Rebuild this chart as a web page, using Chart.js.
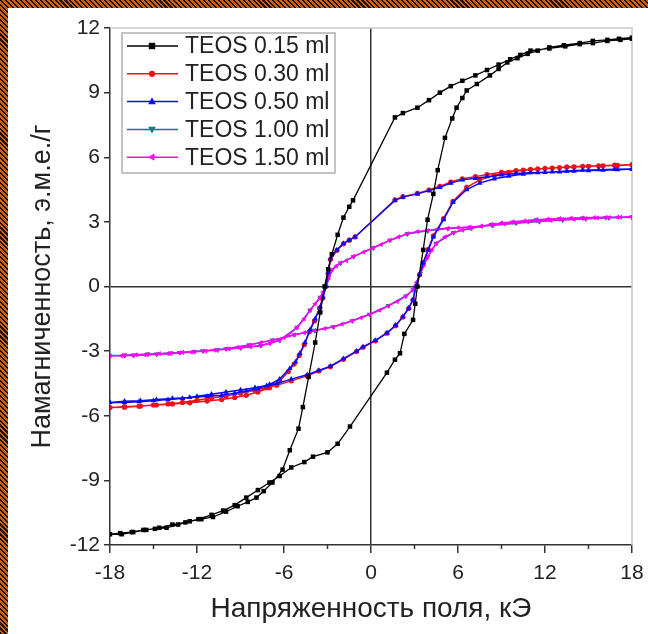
<!DOCTYPE html>
<html>
<head>
<meta charset="utf-8">
<script src="https://cdn.jsdelivr.net/npm/chart.js@4.4.0/dist/chart.umd.min.js"></script>
<style>
  html, body { margin: 0; padding: 0; }
  body {
    width: 648px; height: 634px; overflow: hidden; position: relative;
    background: repeating-linear-gradient(45deg, #1c0c02 0px, #1c0c02 1.5px, #d0620f 1.5px, #d0620f 3.5px);
  }
  #wrap { position: absolute; left: 8px; top: 8px; width: 640px; height: 626px; background: #fff; }
</style>
</head>
<body>
<div id="wrap"><canvas id="myChart" width="640" height="626"></canvas></div>
<script>
/* hysteresis loops, field (kOe) vs magnetization */
var seriesNames = ["TEOS 0.15 ml", "TEOS 0.30 ml", "TEOS 0.50 ml", "TEOS 1.00 ml", "TEOS 1.50 ml"];
var xTicks = [-18, -12, -6, 0, 6, 12, 18];
var yTicks = [-12, -9, -6, -3, 0, 3, 6, 9, 12];

var teos015 = [
  [18,11.5],[17.2,11.45],[16.3,11.4],[15.3,11.3],[14.4,11.25],[13.4,11.15],[12.3,11.05],[11,10.95],
  [10.3,10.75],[9.6,10.55],[8.8,10.3],[8,10.05],[7.2,9.8],[6.3,9.55],[5.5,9.3],[4.75,9.0],[4,8.65],
  [3.2,8.3],[2.2,8.05],[1.65,7.85],[-1.24,4.0],[-1.5,3.7],[-1.9,3.2],[-2.3,2.4],[-2.7,1.5],[-2.95,0.8],
  [-3.2,0],[-3.5,-1.2],[-3.85,-2.6],[-4.3,-4.2],[-4.7,-5.6],[-5.0,-6.6],[-5.6,-7.6],[-6.1,-8.5],
  [-6.8,-9.1],[-7.4,-9.5],[-7.9,-9.8],[-8.5,-10.0],[-9.2,-10.2],[-10,-10.45],[-10.9,-10.7],[-11.7,-10.8],
  [-12.5,-10.9],[-13.3,-11.05],[-14.1,-11.2],[-14.9,-11.25],[-15.7,-11.3],[-16.5,-11.4],[-17.3,-11.45],[-18,-11.5],
  [-17.2,-11.5],[-16.4,-11.4],[-15.5,-11.3],[-14.6,-11.2],[-13.7,-11.05],[-12.8,-10.95],[-11.9,-10.8],
  [-11,-10.6],[-10.2,-10.4],[-9.4,-10.15],[-8.6,-9.8],[-7.8,-9.45],[-7,-9.1],[-6.3,-8.8],[-5.5,-8.4],
  [-4.6,-8.15],[-4,-7.9],[-3,-7.7],[-2.3,-7.3],[-1.45,-6.5],[1.1,-4.0],[1.65,-3.4],[2.0,-3.1],[2.3,-2.2],
  [2.9,-1.55],[3.05,-0.8],[3.2,0],[3.6,1.7],[3.9,3.1],[4.3,4.3],[4.6,5.4],[5.1,6.9],[5.6,7.8],[5.9,8.3],
  [6.3,8.75],[6.6,9.1],[7.3,9.4],[8.2,9.8],[8.8,10.1],[9.4,10.4],[10.1,10.6],[10.8,10.8],[11.5,10.95],
  [12.3,11.1],[13.3,11.2],[14.4,11.3],[15.3,11.4],[16.3,11.45],[17.1,11.5],[18,11.55]
];

var teos030 = [
  [18,5.65],[17,5.62],[16,5.6],[15,5.58],[14,5.55],[13,5.52],[12,5.48],[11,5.44],[10,5.38],[9,5.3],
  [8,5.2],[7.2,5.1],[6.3,5.0],[5.5,4.85],[4.75,4.65],[4,4.48],[3.2,4.32],[2.2,4.17],[1.65,4.02],
  [-1.1,2.3],[-1.5,2.15],[-1.9,1.98],[-2.35,1.68],[-2.8,1.25],[-2.95,0.6],[-3.15,0],[-3.35,-0.55],
  [-3.55,-1.0],[-3.9,-1.6],[-4.25,-2.1],[-4.6,-2.7],[-4.95,-3.2],[-5.3,-3.6],[-5.7,-3.95],[-6.3,-4.4],
  [-7,-4.7],[-7.8,-4.9],[-8.6,-5.05],[-9.4,-5.15],[-10.3,-5.25],[-11.3,-5.32],[-12.5,-5.4],[-13.7,-5.45],
  [-14.8,-5.5],[-15.9,-5.55],[-17,-5.58],[-18,-5.62],
  [-17,-5.6],[-16,-5.56],[-15,-5.5],[-14,-5.45],[-13,-5.38],[-12,-5.28],[-11,-5.18],[-10,-5.08],
  [-9,-4.95],[-8,-4.82],[-7.2,-4.7],[-6.5,-4.58],[-5.5,-4.38],[-4.4,-4.15],[-3.6,-3.92],[-2.8,-3.72],
  [-1.9,-3.38],[-1,-3.02],[-0.55,-2.82],[0.3,-2.52],[1.1,-2.17],[1.7,-1.82],[2.2,-1.42],[2.6,-1.02],
  [2.9,-0.62],[3.1,0],[3.35,0.55],[3.6,1.1],[3.95,1.72],[4.3,2.35],[5,3.15],[5.65,3.95],[6.6,4.6],
  [7.5,4.95],[8.5,5.15],[9.5,5.3],[10.5,5.4],[11.5,5.46],[12.5,5.5],[13.5,5.55],[14.6,5.58],[15.7,5.6],
  [16.8,5.63],[18,5.65]
];

var teos050 = [
  [18,5.45],[17,5.42],[16,5.4],[15,5.38],[14,5.35],[13,5.32],[12,5.3],[11,5.28],[10,5.25],[9,5.18],
  [8,5.1],[7.2,5.02],[6.3,4.95],[5.5,4.8],[4.75,4.6],[4,4.45],[3.2,4.3],[2.2,4.15],[1.65,4.0],
  [-1.1,2.3],[-1.5,2.15],[-1.9,2.0],[-2.35,1.7],[-2.8,1.3],[-2.95,0.65],[-3.1,0],[-3.3,-0.5],
  [-3.5,-0.95],[-3.85,-1.5],[-4.2,-2.0],[-4.55,-2.6],[-4.9,-3.1],[-5.2,-3.5],[-5.6,-3.8],[-6.3,-4.3],
  [-7,-4.55],[-7.8,-4.75],[-8.6,-4.85],[-9.4,-4.95],[-10.3,-5.05],[-11.3,-5.1],[-12.5,-5.15],[-13.7,-5.2],
  [-14.8,-5.25],[-15.9,-5.3],[-17,-5.33],[-18,-5.38],
  [-17,-5.38],[-16,-5.35],[-15,-5.3],[-14,-5.25],[-13,-5.2],[-12,-5.1],[-11,-5.0],[-10,-4.9],
  [-9,-4.8],[-8,-4.7],[-7.2,-4.6],[-6.5,-4.5],[-5.5,-4.3],[-4.4,-4.1],[-3.6,-3.9],[-2.8,-3.7],
  [-1.9,-3.35],[-1,-3.0],[-0.55,-2.8],[0.3,-2.5],[1.1,-2.15],[1.7,-1.8],[2.2,-1.4],[2.6,-1.0],
  [2.9,-0.6],[3.1,0],[3.35,0.55],[3.6,1.1],[3.95,1.7],[4.3,2.3],[5,3.1],[5.65,3.9],[6.6,4.5],
  [7.5,4.8],[8.5,5.0],[9.5,5.12],[10.5,5.22],[11.5,5.28],[12.5,5.32],[13.5,5.36],[14.6,5.4],[15.7,5.42],
  [16.8,5.44],[18,5.45]
];

var teos100 = [
  [18,3.22],[16.4,3.19],[14.8,3.14],[13.2,3.09],[11.6,3.02],[10,2.94],[8.4,2.84],[6.8,2.75],[5.3,2.69],
  [3.9,2.59],[2.5,2.44],[1.3,2.14],[0.15,1.79],[-1.2,1.39],[-2.1,1.09],[-2.7,0.76],[-3.1,0],[-3.5,-0.5],
  [-4.2,-1.1],[-5.1,-1.9],[-6.3,-2.5],[-7.6,-2.74],[-9,-2.84],[-10.6,-2.94],[-12.2,-3.02],[-13.8,-3.09],
  [-15.4,-3.14],[-17,-3.19],[-18,-3.22],
  [-16.4,-3.19],[-14.8,-3.14],[-13.2,-3.07],[-11.6,-2.99],[-10,-2.89],[-8.4,-2.71],[-6.8,-2.49],
  [-5.3,-2.24],[-3.9,-2.04],[-2.6,-1.87],[-1.3,-1.59],[-0.1,-1.29],[1.2,-0.89],[2.4,-0.44],[2.9,-0.15],
  [3.4,0.6],[3.9,1.37],[4.5,2.0],[5.7,2.5],[6.9,2.7],[8.3,2.87],[9.8,2.99],[11.4,3.09],[13,3.14],
  [14.6,3.18],[16.2,3.2],[18,3.22]
];

var teos150 = [
  [18,3.23],[17.2,3.22],[16.4,3.2],[15.6,3.18],[14.8,3.15],[14,3.12],[13.2,3.1],[12.4,3.07],[11.6,3.03],
  [10.8,3.0],[10,2.95],[9.2,2.9],[8.4,2.85],[7.6,2.8],[6.8,2.76],[6,2.73],[5.3,2.7],[4.6,2.67],[3.9,2.6],
  [3.2,2.55],[2.5,2.45],[1.9,2.3],[1.3,2.15],[0.7,1.95],[0.15,1.8],[-0.5,1.6],[-1.2,1.4],[-1.7,1.2],
  [-2.1,1.1],[-2.4,0.95],[-2.7,0.77],[-2.9,0.4],[-3.1,0],[-3.3,-0.25],[-3.5,-0.5],[-3.85,-0.8],[-4.2,-1.1],
  [-4.6,-1.5],[-5.1,-1.9],[-5.7,-2.25],[-6.3,-2.5],[-7,-2.65],[-7.6,-2.75],[-8.3,-2.8],[-9,-2.85],
  [-9.8,-2.9],[-10.6,-2.95],[-11.4,-3.0],[-12.2,-3.03],[-13,-3.06],[-13.8,-3.1],[-14.6,-3.12],[-15.4,-3.15],
  [-16.2,-3.17],[-17,-3.2],[-18,-3.22],
  [-17.2,-3.22],[-16.4,-3.2],[-15.6,-3.18],[-14.8,-3.15],[-14,-3.12],[-13.2,-3.08],[-12.4,-3.05],
  [-11.6,-3.0],[-10.8,-2.95],[-10,-2.9],[-9.2,-2.82],[-8.4,-2.72],[-7.6,-2.6],[-6.8,-2.5],[-6,-2.38],
  [-5.3,-2.25],[-4.6,-2.15],[-3.9,-2.05],[-3.2,-1.95],[-2.6,-1.88],[-2,-1.75],[-1.3,-1.6],[-0.7,-1.45],
  [-0.1,-1.3],[0.6,-1.1],[1.2,-0.9],[1.8,-0.7],[2.4,-0.45],[2.9,-0.16],[3.15,0.2],[3.4,0.6],[3.65,1.0],
  [3.9,1.37],[4.2,1.7],[4.5,2.0],[5.1,2.3],[5.7,2.5],[6.3,2.62],[6.9,2.7],[7.6,2.8],[8.3,2.88],[9,2.95],
  [9.8,3.0],[10.6,3.05],[11.4,3.1],[12.2,3.13],[13,3.15],[13.8,3.17],[14.6,3.19],[15.4,3.2],[16.2,3.21],
  [17,3.22],[18,3.23]
];

var allSeries = [teos015, teos030, teos050, teos100, teos150];
var colors = ["#000000", "#f0101a", "#0a0aff", "#008080", "#ff00ff"];
var markers = [
  { style: "rect", r: 3.2, rot: 0 },
  { style: "circle", r: 2.6, rot: 0 },
  { style: "triangle", r: 3.2, rot: 0 },
  { style: "triangle", r: 3.2, rot: 180 },
  { style: "triangle", r: 3.0, rot: 270 }
];
var drawOrder = [1, 4, 2, 5, 3];   // lower = drawn on top

var FONT = "'Liberation Sans', Arial, sans-serif";
Chart.defaults.font.family = FONT;
Chart.defaults.color = "#222";

function toPoints(arr) {
  return arr.map(function(p) { return { x: p[0], y: p[1] }; });
}

// marker drawn in the legend box
function drawMarker(ctx, m, x, y, color) {
  ctx.save();
  ctx.fillStyle = color;
  ctx.translate(x, y);
  ctx.rotate(m.rot * Math.PI / 180);
  ctx.beginPath();
  if (m.style === "rect") {
    ctx.rect(-m.r, -m.r, 2 * m.r, 2 * m.r);
  } else if (m.style === "circle") {
    ctx.arc(0, 0, m.r + 0.5, 0, Math.PI * 2);
  } else {
    ctx.moveTo(0, -m.r * 1.3);
    ctx.lineTo(m.r * 1.2, m.r * 0.8);
    ctx.lineTo(-m.r * 1.2, m.r * 0.8);
    ctx.closePath();
  }
  ctx.fill();
  ctx.restore();
}

var framePlugin = {
  id: "frame",
  beforeDatasetsDraw: function(chart) {
    var ctx = chart.ctx, a = chart.chartArea;
    ctx.save();
    ctx.strokeStyle = "#c8c8c8";
    ctx.lineWidth = 1.5;
    ctx.beginPath();
    ctx.moveTo(a.left, a.top);
    ctx.lineTo(a.right, a.top);
    ctx.lineTo(a.right, a.bottom);
    ctx.stroke();
    // minor ticks on x
    var xs = chart.scales.x;
    ctx.strokeStyle = "#333";
    ctx.beginPath();
    [-15, -9, -3, 3, 9, 15].forEach(function(v) {
      var px = xs.getPixelForValue(v);
      ctx.moveTo(px, a.bottom);
      ctx.lineTo(px, a.bottom + 4);
    });
    ctx.stroke();
    ctx.restore();
  },
  afterDatasetsDraw: function(chart) {
    var ctx = chart.ctx, a = chart.chartArea;
    var bx = a.left + 12, by = a.top + 5, bw = 213, bh = 140;
    ctx.save();
    ctx.fillStyle = "#fff";
    ctx.fillRect(bx, by, bw, bh);
    ctx.strokeStyle = "#b0b0b0";
    ctx.lineWidth = 1.5;
    ctx.strokeRect(bx, by, bw, bh);
    ctx.font = "23px " + FONT;
    ctx.textBaseline = "middle";
    for (var i = 0; i < seriesNames.length; i++) {
      var ry = by + 13 + i * 27.8;
      ctx.strokeStyle = colors[i];
      ctx.lineWidth = 1.5;
      ctx.beginPath();
      ctx.moveTo(bx + 5, ry);
      ctx.lineTo(bx + 56, ry);
      ctx.stroke();
      drawMarker(ctx, markers[i], bx + 30, ry, colors[i]);
      ctx.fillStyle = "#222";
      ctx.fillText(seriesNames[i], bx + 63, ry + 1);
    }
    ctx.restore();
  }
};

var datasets = allSeries.map(function(s, i) {
  return {
    label: seriesNames[i],
    data: toPoints(s),
    showLine: true,
    borderColor: colors[i],
    backgroundColor: colors[i],
    borderWidth: i === 0 ? 1.3 : 1.5,
    pointStyle: markers[i].style,
    pointRotation: markers[i].rot,
    pointRadius: markers[i].r,
    pointBorderWidth: 0,
    pointBackgroundColor: colors[i],
    order: drawOrder[i]
  };
});

var zeroLine = function(c) {
  return c.tick && c.tick.value === 0 ? "#333" : "rgba(0,0,0,0)";
};

var ctx = document.getElementById("myChart").getContext("2d");
var myChart = new Chart(ctx, {
  type: "scatter",
  data: { datasets: datasets },
  options: {
    responsive: false,
    animation: false,
    layout: { padding: { top: 20, right: 4, left: 0, bottom: 0 } },
    plugins: { legend: { display: false }, tooltip: { enabled: false } },
    scales: {
      x: {
        type: "linear", min: -18, max: 18,
        afterBuildTicks: function(s) { s.ticks = xTicks.map(function(v) { return { value: v }; }); },
        ticks: { font: { size: 21 }, color: "#222", padding: 8, maxRotation: 0 },
        grid: { color: zeroLine, lineWidth: 1.5, tickLength: 8, tickColor: "#333", tickWidth: 1.5 },
        border: { color: "#333", width: 1.5 },
        title: { display: true, text: "Напряженность поля, кЭ", font: { size: 28 }, color: "#222",
                 padding: { top: 0, bottom: 8 } },
        afterFit: function(s) { s.height = 89; s.paddingRight = 16; }
      },
      y: {
        type: "linear", min: -12, max: 12,
        afterBuildTicks: function(s) { s.ticks = yTicks.map(function(v) { return { value: v }; }); },
        ticks: { font: { size: 21 }, color: "#222", padding: 4 },
        grid: { color: zeroLine, lineWidth: 1.5, tickLength: 6, tickColor: "#333", tickWidth: 1.5 },
        border: { color: "#333", width: 1.5 },
        title: { display: true, text: "Намагниченность, э.м.е./г", font: { size: 27 }, color: "#222",
                 padding: { top: 18, bottom: 0 } },
        afterFit: function(s) { s.width = 102; }
      }
    }
  },
  plugins: [framePlugin]
});
</script>
</body>
</html>
